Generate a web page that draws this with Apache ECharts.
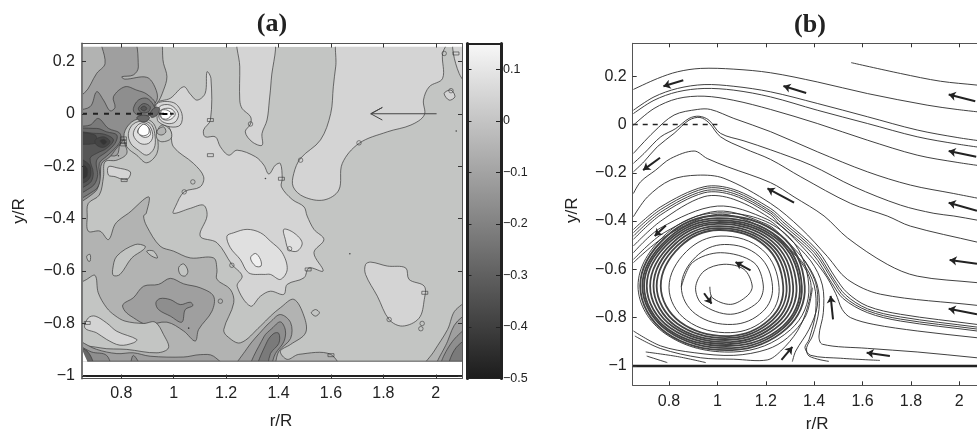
<!DOCTYPE html>
<html><head><meta charset="utf-8">
<style>html,body{margin:0;padding:0;background:#fff}#c{width:977px;height:432px}</style>
<script src="https://cdn.jsdelivr.net/npm/echarts@6/dist/echarts.min.js"></script></head>
<body><div id="c"></div><script>
// ---------- tick labels ----------
const rTicks=[0.8,1,1.2,1.4,1.6,1.8,2];
const yTicks=[0.2,0,-0.2,-0.4,-0.6,-0.8,-1];
const barTicks=[0.1,0,-0.1,-0.2,-0.3,-0.4,-0.5];
// ---------- colour bar ----------
const barStops=[[0.15,'#f8f8f8'],[0.1,'#e6e6e6'],[0,'#c4c4c4'],[-0.1,'#a3a3a3'],[-0.2,'#828282'],[-0.3,'#606060'],[-0.4,'#3f3f3f'],[-0.5,'#1c1c1c']];
const greys={W:'#ffffff',L2:'#f0f0f0',L1:'#e0e0e0',c0:'#d4d4d4',c1:'#c3c5c3',c2:'#b2b3b2',c3:'#9f9f9f',c4:'#8e8e8e',c5:'#7a7a7a',c6:'#686868',c7:'#565656',c8:'#444444',c9:'#343434'};
// ---------- panel (a) contour outlines, [r/R, y/R] ----------
const aBase=[[.65,.256],[2.103,.256],[2.103,-.944],[.65,-.944]];
const aMaskTop=[[.6,.256],[2.2,.256],[2.2,.3],[.6,.3]];
const aMaskRight=[[2.103,.3],[2.2,.3],[2.2,-1.1],[2.103,-1.1]];
const aMaskBottom=[[.6,-.944],[2.2,-.944],[2.2,-1.1],[.6,-1.1]];
const aLeftBig=[[.65,.256],[.936,.256],[.961,.192],[.974,.141],[.961,.09],[.936,.039],[.885,-.005],[.827,-.056],[.811,-.1],[.821,-.151],[.783,-.177],[.738,-.183],[.732,-.24],[.716,-.31],[.674,-.342],[.67,-.39],[.674,-.448],[.719,-.448],[.751,-.48],[.776,-.422],[.802,-.397],[.827,-.38],[.904,-.317],[.895,-.38],[.885,-.39],[.897,-.429],[.948,-.505],[.999,-.524],[1.063,-.55],[1.152,-.55],[1.165,-.594],[1.165,-.632],[1.216,-.67],[1.229,-.721],[1.191,-.823],[1.203,-.848],[1.254,-.874],[1.331,-.81],[1.369,-.772],[1.407,-.74],[1.458,-.708],[1.497,-.772],[1.503,-.836],[1.446,-.88],[1.407,-.906],[1.433,-.937],[1.477,-.918],[1.599,-.918],[1.63,-.944],[.65,-.944]];
const aRightC2=[[1.943,-.944],[1.994,-.905],[2.045,-.823],[2.077,-.747],[2.103,-.708],[2.103,-.944]];
const aRightC3=[[2,-.944],[2.045,-.868],[2.083,-.791],[2.103,-.753],[2.103,-.944]];
const aRightC4=[[2.019,-.944],[2.064,-.868],[2.103,-.804],[2.103,-.944]];
const aRightC5=[[2.051,-.944],[2.077,-.893],[2.103,-.849],[2.103,-.944]];
const aRightC6=[[2.077,-.944],[2.103,-.899],[2.103,-.944]];
const aTopC3=[[.65,.065],[.658,.078],[.706,.154],[.738,.192],[.725,.256],[.84,.256],[.865,.179],[.846,.148],[.802,.141],[.814,.132],[.897,.139],[.929,.1],[.936,.052],[.897,.014],[.84,-.031],[.814,-.075],[.795,-.113],[.783,-.158],[.738,-.164],[.706,-.228],[.693,-.279],[.65,-.317]];
const aTopC4=[[.65,-.005],[.681,.027],[.706,.084],[.732,.052],[.757,.011],[.776,.024],[.77,.065],[.814,.103],[.859,.09],[.897,.075],[.929,.037],[.885,-.014],[.853,-.043],[.827,-.075],[.808,-.1],[.776,-.139],[.757,-.164],[.725,-.19],[.719,-.24],[.7,-.298],[.65,-.342]];
const aLeftC5=[[.65,-.062],[.681,-.043],[.712,-.018],[.751,-.056],[.793,-.073],[.798,-.1],[.776,-.132],[.744,-.162],[.716,-.19],[.719,-.253],[.7,-.291],[.65,-.329]];
const aLeftC6=[[.65,-.073],[.706,-.056],[.744,-.069],[.783,-.081],[.776,-.113],[.744,-.145],[.706,-.177],[.709,-.24],[.687,-.279],[.65,-.31]];
const aLeftC7=[[.65,-.081],[.706,-.075],[.744,-.081],[.77,-.1],[.744,-.132],[.706,-.151],[.681,-.17],[.693,-.228],[.678,-.266],[.65,-.291]];
const aBlob1C8=[[.65,-.164],[.674,-.19],[.683,-.234],[.665,-.259],[.65,-.272]];
const aBlob1C9=[[.65,-.183],[.665,-.202],[.67,-.234],[.655,-.247],[.65,-.247]];
const aBlob2C8=[[.7,-.1],[.733,-.088],[.757,-.107],[.733,-.128],[.706,-.12]];
const aBlob2C9=[[.719,-.103],[.733,-.098],[.744,-.107],[.733,-.117]];
const aBandC8=[[.65,-.075],[.7,-.081],[.7,-.113],[.65,-.107]];
const aLobeC5=[[.846,.02],[.865,.052],[.897,.059],[.923,.033],[.929,.001],[.885,-.008],[.853,.001]];
const aLobeC6=[[.865,.02],[.885,.039],[.91,.027],[.904,.008],[.878,.004]];
const aLobeC7=[[.874,.02],[.887,.029],[.897,.02],[.887,.011]];
const aNeck=[[.859,-.014],[.885,-.005],[.908,-.014],[.891,-.031],[.87,-.027]];
const aSaddle=[[.91,.001],[.929,.024],[.946,.02],[.936,-.005],[.916,-.014]];
const aCentral=[[.936,.039],[.987,.059],[1.038,.103],[1.063,.075],[1.089,.052],[1.12,.078],[1.127,.16],[1.142,.135],[1.14,-.024],[1.114,-.062],[1.12,-.088],[1.159,-.088],[1.178,-.126],[1.21,-.158],[1.242,-.139],[1.312,-.164],[1.344,-.196],[1.363,-.23],[1.388,-.196],[1.407,-.19],[1.414,-.247],[1.411,-.279],[1.452,-.327],[1.497,-.355],[1.509,-.39],[1.535,-.441],[1.573,-.48],[1.535,-.53],[1.57,-.6],[1.516,-.588],[1.497,-.626],[1.433,-.651],[1.42,-.689],[1.369,-.677],[1.331,-.696],[1.293,-.734],[1.242,-.658],[1.261,-.619],[1.222,-.575],[1.165,-.492],[1.101,-.467],[1.127,-.39],[1.114,-.349],[1.063,-.361],[.999,-.38],[1.006,-.355],[1.04,-.298],[1.101,-.279],[1.114,-.24],[1.076,-.19],[.999,-.126],[.987,-.062]];
const aTongue=[[1.248,.256],[1.252,.179],[1.252,.052],[1.261,.02],[1.293,-.011],[1.293,-.039],[1.273,-.069],[1.299,-.107],[1.337,-.12],[1.337,-.075],[1.356,-.024],[1.365,.052],[1.372,.128],[1.379,.256]];
const aRightTongue=[[1.637,.256],[1.618,.179],[1.609,.103],[1.599,.001],[1.56,-.1],[1.484,-.17],[1.458,-.228],[1.456,-.279],[1.497,-.317],[1.573,-.329],[1.63,-.291],[1.643,-.19],[1.707,-.113],[1.815,-.069],[1.905,-.043],[1.956,-.005],[1.953,.052],[1.975,.103],[2.026,.135],[2.026,.23],[2.051,.256]];
const aSliver=[[2.07,.256],[2.089,.154],[2.103,.084],[2.103,.256]];
const aLoop=[[2.032,.078],[2.058,.09],[2.073,.065],[2.051,.052]];
const aRightIsland=[[1.732,-.575],[1.752,-.566],[1.815,-.581],[1.885,-.588],[1.898,-.632],[1.956,-.658],[1.956,-.709],[1.936,-.78],[1.873,-.81],[1.822,-.785],[1.777,-.696],[1.732,-.613]];
const aSmallLight=[[1.42,-.441],[1.458,-.454],[1.49,-.492],[1.471,-.524],[1.439,-.518],[1.426,-.48]];
const aMidL1=[[1.203,-.467],[1.216,-.511],[1.254,-.556],[1.286,-.607],[1.344,-.613],[1.369,-.613],[1.407,-.632],[1.433,-.594],[1.414,-.53],[1.369,-.486],[1.331,-.454],[1.28,-.441],[1.229,-.454]];
const aMidL2=[[1.293,-.55],[1.312,-.533],[1.331,-.556],[1.333,-.581],[1.312,-.581]];
const aRing=[[1.525,-.759],[1.541,-.747],[1.556,-.759],[1.541,-.772]];
const aLeftIsland=[[.751,-.202],[.783,-.206],[.834,-.221],[.827,-.247],[.808,-.251],[.776,-.24],[.751,-.234]];
const aIsleA=[[.783,-.543],[.853,-.499],[.891,-.505],[.885,-.518],[.84,-.55],[.795,-.613],[.77,-.617],[.767,-.594]];
const aIsleB=[[.897,-.524],[.923,-.524],[.938,-.55],[.916,-.543]];
const aIsleC=[[1.019,-.586],[1.038,-.573],[1.054,-.6],[1.044,-.619],[1.025,-.613]];
const aIsleD=[[.668,-.543],[.681,-.537],[.681,-.562],[.674,-.562]];
const aLowerC1=[[.65,-.677],[.668,-.632],[.7,-.617],[.712,-.683],[.744,-.74],[.776,-.77],[.814,-.791],[.885,-.8],[.929,-.795],[.961,-.842],[.98,-.893],[.936,-.912],[.821,-.899],[.719,-.893],[.65,-.855]];
const aLowerC0=[[.661,-.817],[.674,-.779],[.7,-.772],[.744,-.798],[.783,-.83],[.859,-.861],[.846,-.874],[.795,-.883],[.744,-.861],[.706,-.836]];
const aMoundC3=[[.806,-.728],[.846,-.702],[.885,-.658],[.942,-.651],[.987,-.628],[1.038,-.649],[1.101,-.664],[1.152,-.696],[1.146,-.753],[1.095,-.823],[1.082,-.867],[1.038,-.829],[.974,-.795],[.897,-.804],[.846,-.778],[.814,-.753]];
const aMoundC4=[[.932,-.721],[.948,-.705],[.987,-.709],[1.025,-.728],[1.063,-.719],[1.073,-.732],[1.044,-.747],[1.031,-.795],[.987,-.772],[.942,-.747]];
const aFootC3=[[1.229,-.944],[1.28,-.895],[1.344,-.819],[1.369,-.794],[1.407,-.766],[1.446,-.797],[1.446,-.857],[1.401,-.906],[1.369,-.944]];
const aFootC4=[[1.286,-.944],[1.344,-.851],[1.375,-.819],[1.407,-.794],[1.426,-.826],[1.42,-.87],[1.388,-.915],[1.356,-.944]];
const aFootC5=[[1.312,-.944],[1.356,-.87],[1.382,-.838],[1.401,-.838],[1.401,-.876],[1.369,-.915],[1.35,-.944]];
const aBandLowC3=[[.65,-.858],[.706,-.899],[.783,-.915],[.846,-.912],[.91,-.925],[1.038,-.928],[1.101,-.919],[1.152,-.925],[1.203,-.944],[.65,-.944]];
const aBandLowC4=[[.65,-.873],[.687,-.909],[.744,-.922],[.776,-.944],[.821,-.944],[.846,-.922],[.872,-.944],[.65,-.944]];
const aCornerC6=[[.65,-.893],[.67,-.906],[.7,-.944],[.67,-.944]];
const aCornerWhite=[[.65,-.899],[.67,-.944],[.65,-.944]];
const aPetalA1=[[.821,-.126],[.811,-.075],[.84,-.031],[.885,-.018],[.923,-.037],[.938,-.088],[.936,-.151],[.897,-.187],[.859,-.158]];
const aPetalA2=[[.836,-.113],[.827,-.075],[.846,-.039],[.885,-.028],[.916,-.043],[.929,-.088],[.925,-.132],[.897,-.158],[.865,-.139]];
const aPetalA3=[[.846,-.081],[.859,-.047],[.885,-.034],[.91,-.05],[.92,-.088],[.904,-.113],[.872,-.113]];
const aPetalA4=[[.862,-.069],[.885,-.041],[.906,-.056],[.91,-.081],[.887,-.09]];
const aPetalA5=[[.866,-.058],[.885,-.04],[.904,-.054],[.904,-.075],[.885,-.084],[.866,-.075]];
const aPetalB1=[[.936,.039],[1,.042],[1.031,.001],[1.025,-.043],[.987,-.05],[.942,-.031],[.936,-.005]];
const aPetalB2=[[.946,.027],[.987,.033],[1.018,.001],[1.006,-.031],[.974,-.037],[.945,-.018]];
const aPetalB3=[[.951,.014],[.987,.02],[1.006,-.001],[.987,-.022],[.961,-.022],[.946,-.005]];
const aPetalB4=[[.953,.012],[.974,.014],[.992,-.001],[.974,-.02],[.953,-.014]];
const aLobeLow1=[[.936,-.069],[.955,-.043],[.987,-.062],[.99,-.094],[.955,-.107],[.936,-.094]];
const aLobeLow2=[[.938,-.062],[.961,-.05],[.97,-.069],[.955,-.081],[.938,-.075]];
// painter's order: [outline, grey key]
const contourOrder=[[aBase,'c1'],[aLeftBig,'c2'],[aRightC2,'c2'],[aRightC3,'c3'],[aRightC4,'c4'],[aRightC5,'c5'],[aRightC6,'c6'],
[aMoundC3,'c3'],[aMoundC4,'c4'],[aLowerC1,'c1'],[aLowerC0,'c0'],[aBandLowC3,'c3'],[aBandLowC4,'c4'],[aCornerC6,'c6'],
[aFootC3,'c3'],[aFootC4,'c4'],[aFootC5,'c5'],[aIsleA,'c1'],[aIsleB,'c1'],[aIsleC,'c1'],[aIsleD,'c1'],[aRing,'c1'],
[aCentral,'c0'],[aTongue,'c0'],[aRightTongue,'c0'],[aSliver,'c0'],[aLoop,'c0'],[aRightIsland,'c0'],[aSmallLight,'L1'],[aMidL1,'L1'],[aMidL2,'L2'],[aLeftIsland,'c0'],
[aTopC3,'c3'],[aTopC4,'c4'],[aLeftC5,'c5'],[aLeftC6,'c6'],[aLeftC7,'c7'],[aBandC8,'c8'],[aBlob1C8,'c8'],[aBlob1C9,'c9'],[aBlob2C8,'c8'],[aBlob2C9,'c9'],
[aPetalA1,'c1'],[aPetalA2,'c0'],[aPetalA3,'L1'],[aPetalA4,'L2'],[aPetalA5,'W'],[aPetalB1,'c0'],[aPetalB2,'L1'],[aPetalB3,'L2'],[aPetalB4,'W'],[aLobeLow1,'c1'],[aLobeLow2,'c2'],
[aLobeC5,'c5'],[aLobeC6,'c6'],[aLobeC7,'c7'],[aNeck,'c6'],[aSaddle,'c6'],
[aCornerWhite,'W'],[aMaskTop,'W'],[aMaskRight,'W'],[aMaskBottom,'W']];
const sharpOutlines=[aBase,aCornerWhite,aMaskTop,aMaskRight,aMaskBottom];
const aRectMarks=[[1.14,-.024],[.808,-.094],[.808,-.107],[.808,-.117],[.811,-.253],[1.411,-.248],[2.077,.23],[1.513,-.594],[1.958,-.683],[1.6,-.921],[.67,-.798],[1.14,-.158]];
const aCircleMarks=[[1.293,-.039],[1.04,-.298],[1.073,-.26],[1.484,-.177],[1.707,-.111],[2.032,.23],[2.058,.088],[1.222,-.578],[1.178,-.715],[1.442,-.515],[1.822,-.785],[1.948,-.8],[1.943,-.82]];
const aDots=[[2.078,-.066],[1.672,-.534],[1.35,-.247],[.789,-.16],[1.057,-.818]];
const aArrow=[[2.003,0],[1.752,0],[1.796,.024],[1.752,0],[1.796,-.024]];
const aFillFloor=[[.67,-.944],[2.103,-.944]];
const dashLine=[[.65,0],[1,0]];
const aDashEnd=[[.957,-.001],[.976,-.001]];
const wallLine=[[.65,-1],[2.12,-1]];
// ---------- panel (b) streamlines ----------
const sA=[[1.553,.256],[1.757,.211],[1.922,.179],[2.073,.163],[2.115,.158]];
const sB=[[.653,.145],[.752,.19],[.835,.218],[.931,.232],[1.068,.229],[1.22,.214],[1.413,.176],[1.62,.128],[1.867,.08],[1.991,.062],[2.115,.048]];
const sC=[[.653,.059],[.738,.114],[.835,.149],[.945,.165],[1.068,.158],[1.22,.135],[1.413,.087],[1.62,.032],[1.826,-.023],[1.991,-.054],[2.115,-.072]];
const sD=[[.653,.045],[.738,.1],[.835,.135],[.945,.149],[1.068,.142],[1.22,.114],[1.413,.059],[1.62,.004],[1.826,-.051],[1.991,-.081],[2.115,-.099]];
const sE=[[.653,-.003],[.738,.066],[.835,.107],[.945,.117],[1.068,.1],[1.22,.062],[1.413,.004],[1.62,-.065],[1.826,-.127],[1.991,-.157],[2.115,-.175]];
const sF=[[.653,-.12],[.738,-.03],[.821,.039],[.917,.062],[.972,.062],[1.068,.025],[1.22,-.03],[1.413,-.113],[1.62,-.196],[1.798,-.251],[1.977,-.286],[2.115,-.313]];
const sG=[[.653,-.161],[.697,-.12],[.766,-.051],[.828,-.017],[.883,.025],[.924,.034],[.965,.018],[1.013,-.037],[1.11,-.068],[1.22,-.105],[1.386,-.168],[1.565,-.258],[1.757,-.334],[1.895,-.368],[1.977,-.379],[2.073,-.396],[2.115,-.404]];
const sH=[[.653,-.196],[.697,-.154],[.752,-.092],[.821,-.037],[.883,.018],[.928,.029],[.965,.007],[1.013,-.051],[1.11,-.099],[1.22,-.145],[1.345,-.217],[1.551,-.327],[1.702,-.379],[1.798,-.421],[2.073,-.487],[2.115,-.497]];
const sI=[[.653,-.286],[.683,-.237],[.745,-.189],[.807,-.141],[.904,-.11],[.958,-.141],[1.041,-.175],[1.22,-.241],[1.317,-.3],[1.441,-.379],[1.537,-.469],[1.702,-.579],[1.826,-.628],[2.073,-.655],[2.115,-.659]];
const sJ=[[.653,-.382],[.711,-.3],[.807,-.23],[.917,-.21],[1.027,-.223],[1.22,-.327],[1.345,-.43],[1.455,-.547],[1.537,-.641],[1.675,-.703],[2.073,-.749],[2.115,-.754]];
const bun1=[[.653,-.435],[.766,-.341],[.945,-.258],[1.068,-.269],[1.22,-.348],[1.276,-.397],[1.413,-.52],[1.489,-.636],[1.537,-.697],[1.62,-.752],[1.757,-.786],[2.073,-.828],[2.115,-.834]];
const bun2=[[.653,-.448],[.766,-.352],[.945,-.266],[1.068,-.277],[1.22,-.358],[1.269,-.402],[1.406,-.525],[1.482,-.642],[1.53,-.706],[1.62,-.763],[1.757,-.797],[2.073,-.839],[2.115,-.845]];
const bun3=[[.653,-.462],[.766,-.363],[.945,-.275],[1.068,-.286],[1.22,-.366],[1.262,-.407],[1.4,-.53],[1.478,-.648],[1.526,-.715],[1.62,-.771],[1.757,-.806],[2.073,-.847],[2.115,-.854]];
const bun4=[[.653,-.476],[.766,-.374],[.945,-.283],[1.068,-.294],[1.22,-.375],[1.255,-.412],[1.393,-.535],[1.472,-.655],[1.52,-.721],[1.62,-.779],[1.757,-.814],[2.073,-.855],[2.115,-.862]];
const wrap1=[[.653,-.503],[.766,-.4],[.945,-.299],[1.068,-.31],[1.234,-.399],[1.345,-.5],[1.441,-.615],[1.489,-.7],[1.516,-.766],[1.551,-.8],[1.647,-.828],[1.826,-.855],[2.073,-.883],[2.115,-.887]];
const wrap2=[[.653,-.531],[.766,-.428],[1,-.338],[1.206,-.393],[1.29,-.465],[1.386,-.565],[1.434,-.665],[1.438,-.779],[1.42,-.876],[1.434,-.91],[1.62,-.927],[1.826,-.942],[2.073,-.966],[2.115,-.97]];
const wrap3=[[.653,-.559],[.78,-.448],[1,-.359],[1.206,-.414],[1.276,-.472],[1.365,-.57],[1.413,-.665],[1.42,-.766],[1.393,-.876],[1.369,-.924],[1.379,-.959],[1.461,-.981]];
const wrap4=[[.653,-.572],[.787,-.462],[1,-.372],[1.178,-.421],[1.262,-.48],[1.351,-.57],[1.4,-.665],[1.406,-.779],[1.379,-.89],[1.362,-.924],[1.386,-.956],[1.51,-.968],[1.672,-.977]];
const low1=[[.653,-.855],[.766,-.917],[.904,-.945],[1.068,-.956],[1.206,-.931],[1.29,-.883],[1.365,-.793],[1.393,-.676]];
const low2=[[.704,-.942],[.835,-.961],[.952,-.986]];
const low3=[[.708,-.959],[.793,-.986]];
const low4=[[.659,-.876],[.766,-.928],[.931,-.966],[1.068,-.972],[1.206,-.975],[1.262,-.938],[1.331,-.855],[1.372,-.759],[1.386,-.655],[1.338,-.56],[1.248,-.47]];
const low5=[[1.31,-.982],[1.324,-.938],[1.379,-.848],[1.413,-.752],[1.406,-.655],[1.358,-.56]];
const spiral=[[.969,-.672],[.979,-.717],[1.055,-.745],[1.123,-.71],[1.144,-.669],[1.11,-.6],[1.027,-.579],[.945,-.607],[.91,-.676],[.938,-.745],[1.055,-.786],[1.165,-.738],[1.19,-.669],[1.151,-.572],[1.013,-.531],[.897,-.572],[.851,-.672]];
const ring1=[[.851,-.672],[.91,-.549],[1.029,-.497],[1.172,-.545],[1.228,-.672],[1.187,-.775],[1.062,-.828],[.91,-.785]];
const ring2=[[.8,-.675],[.872,-.526],[1.015,-.462],[1.187,-.52],[1.255,-.675],[1.206,-.799],[1.055,-.862],[.872,-.81]];
const ring3=[[.766,-.669],[.846,-.506],[1.004,-.437],[1.196,-.501],[1.272,-.669],[1.217,-.806],[1.049,-.876],[.846,-.818]];
const ring4=[[.749,-.669],[.835,-.501],[1.001,-.429],[1.206,-.495],[1.286,-.669],[1.227,-.811],[1.049,-.884],[.835,-.825]];
const ring5=[[.736,-.669],[.825,-.495],[1.001,-.421],[1.216,-.49],[1.299,-.669],[1.238,-.817],[1.052,-.892],[.825,-.832]];
const ring6=[[.722,-.669],[.815,-.49],[.999,-.412],[1.225,-.483],[1.313,-.669],[1.249,-.822],[1.053,-.901],[.815,-.837]];
const ring7=[[.708,-.669],[.806,-.484],[.999,-.404],[1.235,-.477],[1.327,-.669],[1.26,-.828],[1.055,-.909],[.806,-.843]];
const ring8=[[.697,-.669],[.799,-.479],[.999,-.396],[1.244,-.472],[1.341,-.669],[1.271,-.835],[1.057,-.917],[.799,-.85]];
const ring9=[[.69,-.669],[.795,-.473],[.999,-.388],[1.25,-.466],[1.349,-.669],[1.276,-.84],[1.059,-.926],[.795,-.855]];
const ring10=[[.681,-.669],[.788,-.465],[.999,-.377],[1.26,-.458],[1.361,-.669],[1.287,-.844],[1.062,-.934],[.788,-.862]];
const ring11=[[.672,-.669],[.784,-.457],[1.002,-.366],[1.276,-.448],[1.378,-.669],[1.302,-.85],[1.068,-.942],[.784,-.866]];
const openLines=[sA,sB,sC,sD,sE,sF,sG,sH,sI,sJ,bun1,bun2,bun3,bun4,wrap1,wrap2,wrap3,wrap4,low1,low2,low3,low4,low5,spiral];
const closedRings=[ring1,ring2,ring3,ring4,ring5,ring6,ring7,ring8,ring9,ring10,ring11];
const denseRings=[ring3,ring4,ring5,ring6,ring7,ring8,ring9,ring10];
const flowArrows=[[[.859,.183],[.777,.158]],[[.763,-.138],[.693,-.189]],[[1.367,.13],[1.273,.159]],[[2.066,.096],[1.956,.124]],[[2.07,-.134],[1.956,-.11]],[[2.073,-.357],[1.956,-.324]],[[1.317,-.324],[1.207,-.265]],[[2.073,-.577],[1.96,-.561]],[[2.073,-.786],[1.956,-.763]],[[1.713,-.959],[1.617,-.945]],[[1.478,-.807],[1.468,-.71]],[[1.265,-.975],[1.31,-.921]],[[.787,-.418],[.741,-.462]],[[1.137,-.604],[1.075,-.57]],[[.945,-.699],[.976,-.742]]];

const font='"Liberation Sans"', TICK=16;
const minus=v=>String(v).replace('-','\u2212');
function boxAxes(idx,range,ticks,pos,showLabel,name,opts){
  return Object.assign({type:'value',gridIndex:idx,min:range[0],max:range[1],position:pos,z:5,
    splitLine:{show:false},name:name||'',nameLocation:'middle',
    axisLine:{show:true,onZero:false,lineStyle:{color:'#555',width:1}},
    axisTick:{show:true,inside:true,length:4,customValues:ticks,lineStyle:{color:'#333'}},
    axisLabel:{show:showLabel,customValues:ticks,formatter:minus,fontFamily:font,fontSize:TICK,color:'#222',margin:7}},opts||{});
}
const xRangeA=[.65,2.1],yRangeA=[-1.01,.268],xRangeB=[.65,2.1],yRangeB=[-1.08,.336];
const nameStyle={fontFamily:font,fontSize:17,color:'#222'};
const titleStyle={fontFamily:'"Liberation Serif"',fontWeight:'bold',fontSize:26,color:'#222'};
const option={animation:false,backgroundColor:'#fff',
 title:[{text:'(a)',left:267,top:6,textAlign:'center',textStyle:titleStyle},
        {text:'(b)',left:805,top:7,textAlign:'center',textStyle:titleStyle}],
 grid:[{left:82,top:43.5,width:380,height:335,outerBoundsMode:'none'},{left:632.7,top:43.3,width:350.8,height:342,outerBoundsMode:'none'},{left:467.5,top:43.5,width:33.5,height:335,outerBoundsMode:'none'}],
 xAxis:[
  boxAxes(0,xRangeA,rTicks,'bottom',true,'r/R',{nameGap:34,nameTextStyle:Object.assign({padding:[0,0,0,18]},nameStyle)}),
  boxAxes(0,xRangeA,rTicks,'top',false),
  boxAxes(1,xRangeB,rTicks,'bottom',true,'r/R',{nameGap:31,axisLabel:{customValues:rTicks,formatter:minus,fontFamily:font,fontSize:TICK,color:'#222',margin:8},nameTextStyle:Object.assign({padding:[0,0,0,18]},nameStyle)}),
  boxAxes(1,xRangeB,rTicks,'top',false),
  {type:'value',gridIndex:2,min:0,max:1,z:5,position:'bottom',axisLine:{show:true,onZero:false,lineStyle:{color:'#222',width:1}},axisTick:{show:false},axisLabel:{show:false},splitLine:{show:false}},
  {type:'value',gridIndex:2,min:0,max:1,z:5,position:'top',axisLine:{show:true,onZero:false,lineStyle:{color:'#222',width:2}},axisTick:{show:false},axisLabel:{show:false},splitLine:{show:false}}
 ],
 yAxis:[
  boxAxes(0,yRangeA,yTicks,'left',true,'y/R',{nameGap:54,nameTextStyle:nameStyle,axisLine:{show:true,onZero:false,lineStyle:{color:'#777',width:2}}}),
  boxAxes(0,yRangeA,yTicks,'right',false),
  boxAxes(1,yRangeB,yTicks,'left',true,'y/R',{nameGap:52,axisLabel:{customValues:yTicks,formatter:minus,fontFamily:font,fontSize:TICK,color:'#222',margin:6},nameTextStyle:Object.assign({padding:[0,0,0,8]},nameStyle)}),
  {type:'value',gridIndex:2,min:-.5,max:.15,z:5,position:'left',axisLine:{show:true,onZero:false,lineStyle:{color:'#222',width:3}},axisTick:{show:true,inside:true,length:4,customValues:barTicks,lineStyle:{color:'#222'}},axisLabel:{show:false},splitLine:{show:false}},
  {type:'value',gridIndex:2,min:-.5,max:.15,z:5,position:'right',axisLine:{show:true,onZero:false,lineStyle:{color:'#222',width:3}},axisTick:{show:true,inside:true,length:5,customValues:barTicks,lineStyle:{color:'#222'}},axisLabel:{show:true,customValues:barTicks,formatter:minus,fontFamily:font,fontSize:12.5,color:'#222',margin:2},splitLine:{show:false}}
 ],
 series:[]
};
const plain=(data,xi,yi,lineStyle)=>({type:'line',xAxisIndex:xi,yAxisIndex:yi,data,showSymbol:false,silent:true,clip:true,lineStyle});
// bleed edge points past the frame so corner rounding stays hidden under the masks
const bleed=q=>[q[0]===.65?.6:q[0]===2.103?2.16:q[0], q[1]===.256?.3:q[1]===-.944?-.99:q[1]];
option.series.push({type:'custom',xAxisIndex:0,yAxisIndex:0,clip:true,silent:true,
 data:contourOrder.map((c,i)=>[c[0][0][0],c[0][0][1],i]),
 renderItem:(p,api)=>{const c=contourOrder[p.dataIndex],sharp=sharpOutlines.includes(c[0]);
   return {type:'polygon',shape:{points:(sharp?c[0]:c[0].map(bleed)).map(q=>api.coord(q)),smooth:sharp?0:.35},
     style:{fill:greys[c[1]],stroke:sharp?'none':'#3a3a3a',lineWidth:.7}};}});
option.series.push(plain(aFillFloor,0,0,{color:'#555',width:1}));
option.series.push({type:'scatter',xAxisIndex:0,yAxisIndex:0,data:aRectMarks,symbol:'rect',symbolSize:[6,3],silent:true,itemStyle:{color:'transparent',borderColor:'#333',borderWidth:.7}});
option.series.push({type:'scatter',xAxisIndex:0,yAxisIndex:0,data:aCircleMarks,symbol:'circle',symbolSize:4.5,silent:true,itemStyle:{color:'transparent',borderColor:'#333',borderWidth:.7}});
option.series.push({type:'scatter',xAxisIndex:0,yAxisIndex:0,data:aDots,symbol:'circle',symbolSize:1.6,silent:true,itemStyle:{color:'#222'}});
option.series.push(plain(aArrow,0,0,{color:'#444',width:1}));
option.series.push(plain(dashLine,0,0,{color:'#222',width:2,type:[5,6]}));
option.series.push(plain(aDashEnd,0,0,{color:'#000',width:2.2}));
option.series.push(plain(wallLine,0,0,{color:'#222',width:2}));
// colour bar
option.series.push({type:'custom',xAxisIndex:4,yAxisIndex:3,silent:true,clip:true,data:[[0,-.5],[1,.15]],
 renderItem:(p,api)=>{ if(p.dataIndex) return null;
   const a=api.coord([0,.15]),b=api.coord([1,-.5]);
   return {type:'rect',shape:{x:a[0],y:a[1],width:b[0]-a[0],height:b[1]-a[1]},
     style:{fill:new echarts.graphic.LinearGradient(0,0,0,1,barStops.map(s=>({offset:(.15-s[0])/.65,color:s[1]})))}};}});
// streamlines
const streamItems=openLines.map(l=>[l,false]).concat(closedRings.map(l=>[l,true]));
option.series.push({type:'custom',xAxisIndex:2,yAxisIndex:2,clip:true,silent:true,
 data:streamItems.map((s,i)=>[s[0][0][0],s[0][0][1],i]),
 renderItem:(p,api)=>{const s=streamItems[p.dataIndex],dense=denseRings.includes(s[0]);
   return {type:s[1]?'polygon':'polyline',shape:{points:s[0].map(q=>api.coord(q)),smooth:s[1]?.38:.33},
     style:{fill:'none',stroke:dense?'#444444':'#2b2b2b',lineWidth:dense?1.8:.9}};}});
option.series.push(plain(dashLine,2,2,{color:'#222',width:1.6,type:[5,5]}));
option.series.push(plain(wallLine,2,2,{color:'#222',width:2.4}));
option.series.push({type:'lines',coordinateSystem:'cartesian2d',xAxisIndex:2,yAxisIndex:2,silent:true,polyline:false,
  symbol:['none','arrow'],symbolSize:7,lineStyle:{color:'#222',width:2,opacity:1,curveness:0},
  data:flowArrows.map(a=>({coords:a}))});
echarts.init(document.getElementById('c')).setOption(option);
</script></body></html>
